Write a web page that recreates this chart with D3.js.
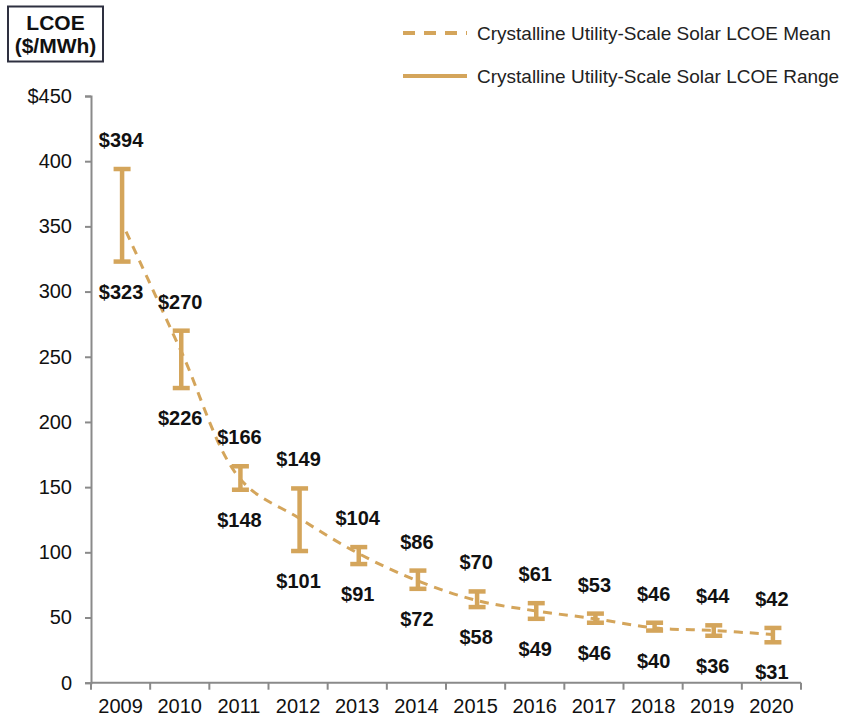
<!DOCTYPE html>
<html>
<head>
<meta charset="utf-8">
<script src="https://cdn.jsdelivr.net/npm/d3@7"></script>
<style>
  body { margin: 0; background: #fff; }
  svg text { font-family: "Liberation Sans", Arial, sans-serif; }
</style>
</head>
<body>
<div id="chart"></div>
<script>
// data
const years = ['2009', '2010', '2011', '2012', '2013', '2014', '2015', '2016', '2017', '2018', '2019', '2020'];
const highs = [394, 270, 166, 149, 104, 86, 70, 61, 53, 46, 44, 42];
const lows = [323, 226, 148, 101, 91, 72, 58, 49, 46, 40, 36, 31];
const means = [346, 254, 156, 126, 99, 78, 63, 55, 49, 42, 40, 37];
const yTicks = [0, 50, 100, 150, 200, 250, 300, 350, 400, 450];

const w = 844;
const h = 717;
const gold = '#D4A55B';

const svg = d3.select('#chart')
  .append('svg')
  .attr('width', w)
  .attr('height', h);

const x = d3.scaleBand().domain(years).range([91, 801]);
const y = d3.scaleLinear().domain([0, 450]).range([682.7, 96]);

// y axis
const yAxis = svg.append('g')
  .attr('transform', 'translate(91,0)')
  .call(d3.axisLeft(y).tickValues(yTicks).tickSize(6).tickPadding(13)
    .tickFormat(d => d === 450 ? '$450' : d));
yAxis.select('.domain').attr('stroke', '#8a8a8a').attr('stroke-width', 2);
yAxis.selectAll('.tick line').attr('stroke', '#8a8a8a').attr('stroke-width', 2);
yAxis.selectAll('.tick text')
  .attr('font-size', 20)
  .attr('fill', '#111')
  .style('font-family', '"Liberation Sans", Arial, sans-serif');

// x axis, ticks on band edges
const xAxis = svg.append('g').attr('transform', `translate(0,${y(0)})`);
xAxis.append('line')
  .attr('x1', 91).attr('x2', 801)
  .attr('stroke', '#8a8a8a').attr('stroke-width', 2);
const edges = years.map(d => x(d)).concat([x(years[years.length - 1]) + x.bandwidth()]);
xAxis.selectAll('.edge')
  .data(edges)
  .enter()
  .append('line')
  .attr('x1', d => d).attr('x2', d => d)
  .attr('y1', 0).attr('y2', 7)
  .attr('stroke', '#8a8a8a').attr('stroke-width', 2);
xAxis.selectAll('.yr')
  .data(years)
  .enter()
  .append('text')
  .attr('x', d => x(d) + x.bandwidth() / 2)
  .attr('y', 30)
  .attr('text-anchor', 'middle')
  .attr('font-size', 20)
  .attr('fill', '#111')
  .text(d => d);

const cx = d => x(d) + x.bandwidth() / 2 + 1.5;

// mean line
const line = d3.line()
  .x((d, i) => cx(years[i]) + 4 * (i === 0))
  .y(d => y(d))
  .curve(d3.curveCatmullRom);
svg.append('path')
  .datum(means)
  .attr('d', line)
  .attr('fill', 'none')
  .attr('stroke', gold)
  .attr('stroke-width', 3)
  .attr('stroke-dasharray', '9,7');

// range bars
const bars = svg.selectAll('.range')
  .data(years)
  .enter()
  .append('g')
  .attr('class', 'range');
bars.append('line')
  .attr('x1', d => cx(d)).attr('x2', d => cx(d))
  .attr('y1', (d, i) => y(highs[i])).attr('y2', (d, i) => y(lows[i]))
  .attr('stroke', gold).attr('stroke-width', 4.5);
bars.append('line')
  .attr('x1', d => cx(d) - 8.5).attr('x2', d => cx(d) + 8.5)
  .attr('y1', (d, i) => y(highs[i])).attr('y2', (d, i) => y(highs[i]))
  .attr('stroke', gold).attr('stroke-width', 4.5);
bars.append('line')
  .attr('x1', d => cx(d) - 8.5).attr('x2', d => cx(d) + 8.5)
  .attr('y1', (d, i) => y(lows[i])).attr('y2', (d, i) => y(lows[i]))
  .attr('stroke', gold).attr('stroke-width', 4.5);

// value labels
bars.append('text')
  .attr('x', d => cx(d) - 1)
  .attr('y', (d, i) => y(highs[i]) - 29)
  .attr('dy', '0.35em')
  .attr('text-anchor', 'middle')
  .attr('font-size', 20)
  .attr('font-weight', 'bold')
  .attr('fill', '#111')
  .text((d, i) => '$' + highs[i]);
bars.append('text')
  .attr('x', d => cx(d) - 1)
  .attr('y', (d, i) => y(lows[i]) + 30)
  .attr('dy', '0.35em')
  .attr('text-anchor', 'middle')
  .attr('font-size', 20)
  .attr('font-weight', 'bold')
  .attr('fill', '#111')
  .text((d, i) => '$' + lows[i]);

// unit box
const box = svg.append('g');
box.append('rect')
  .attr('x', 8).attr('y', 6.5)
  .attr('width', 95).attr('height', 55)
  .attr('fill', '#fff')
  .attr('stroke', '#2e3040').attr('stroke-width', 2);
box.append('text')
  .attr('x', 55.5).attr('y', 30)
  .attr('text-anchor', 'middle')
  .attr('font-size', 21).attr('font-weight', 'bold').attr('fill', '#111')
  .text('LCOE');
box.append('text')
  .attr('x', 55.5).attr('y', 53)
  .attr('text-anchor', 'middle')
  .attr('font-size', 21).attr('font-weight', 'bold').attr('fill', '#111')
  .text('($/MWh)');

// legend
const legendItems = [
  { label: 'Crystalline Utility-Scale Solar LCOE Mean', dash: '12,9' },
  { label: 'Crystalline Utility-Scale Solar LCOE Range', dash: null }
];
const legend = svg.selectAll('.legend-item')
  .data(legendItems)
  .enter()
  .append('g')
  .attr('class', 'legend-item')
  .attr('transform', (_, i) => `translate(403, ${33 + i * 43})`);
legend.append('line')
  .attr('x1', 0).attr('x2', 64)
  .attr('stroke', gold).attr('stroke-width', 4)
  .attr('stroke-dasharray', d => d.dash);
legend.append('text')
  .attr('x', 74)
  .attr('dy', '0.35em')
  .attr('font-size', 19)
  .attr('fill', '#222')
  .text(d => d.label);
</script>
</body>
</html>
